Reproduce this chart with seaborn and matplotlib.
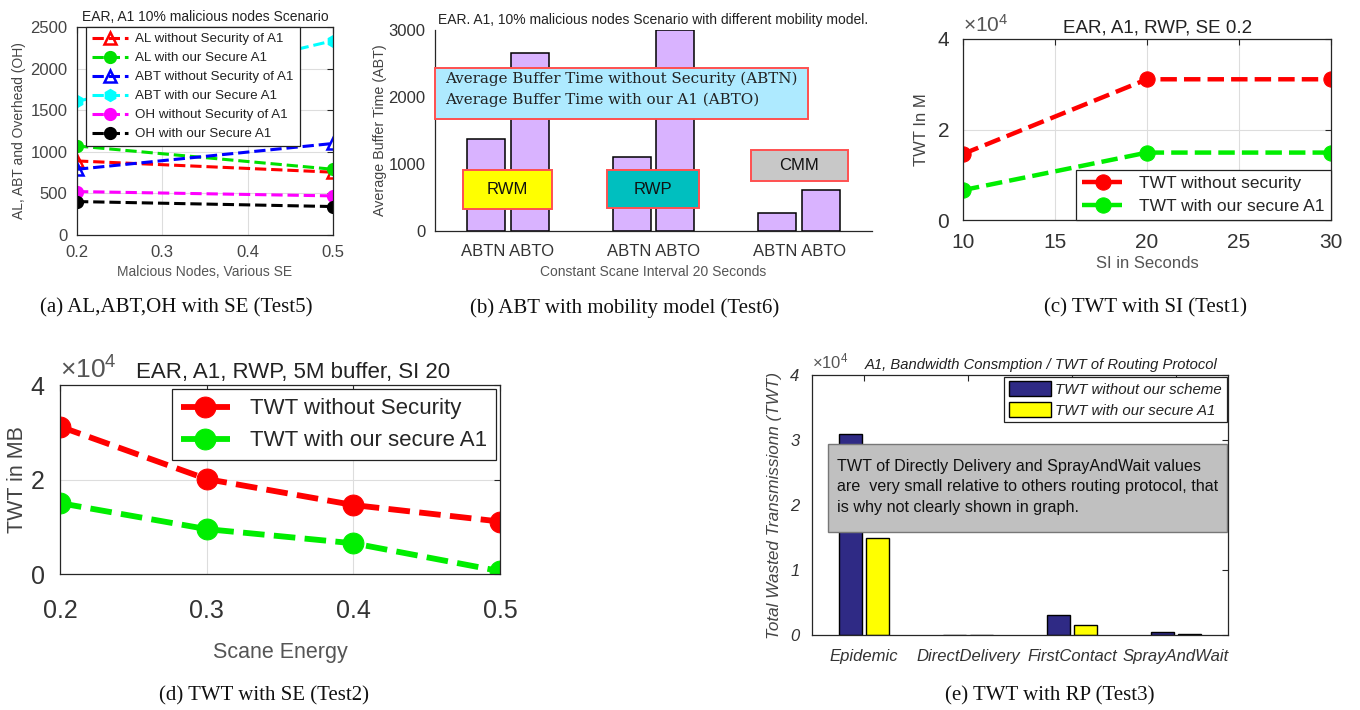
import matplotlib
matplotlib.use("Agg")
import matplotlib.pyplot as plt
import matplotlib.patches as mpatches
from matplotlib.lines import Line2D
import numpy as np
import pandas as pd
import seaborn as sns

# ---------------- data ----------------
# (a)
a_se = [0.2, 0.5]
al_without = [890, 755]
al_with = [1070, 790]
abt_without = [790, 1100]
abt_with = [1605, 2335]
oh_without = [522, 470]
oh_with = [402, 342]
a_labels = ["AL without Security of A1", "AL with our Secure A1",
            "ABT without Security of A1", "ABT with our Secure A1",
            "OH without Security of A1", "OH with our Secure A1"]
# (b)
b_models = ["RWM", "RWP", "CMM"]
b_abtn = [1380, 1100, 265]
b_abto = [2650, 3000, 615]
# (c)
c_si = [10, 20, 30]
c_without = [14600, 31100, 31100]
c_with = [6600, 14900, 14900]
# (d)
d_se = [0.2, 0.3, 0.4, 0.5]
d_without = [31200, 20100, 14600, 11100]
d_with = [15000, 9500, 6500, 600]
# (e)
e_protocols = ["Epidemic", "DirectDelivery", "FirstContact", "SprayAndWait"]
e_without = [30900, 25, 3100, 420]
e_with = [14900, 15, 1550, 220]

captions = ["(a) AL,ABT,OH with SE (Test5)", "(b) ABT with mobility model (Test6)",
            "(c) TWT with SI (Test1)", "(d) TWT with SE (Test2)", "(e) TWT with RP (Test3)"]

# ---------------- style ----------------
sns.set_style("white")
plt.rcParams["font.family"] = ["Liberation Sans", "DejaVu Sans"]
plt.rcParams["mathtext.fontset"] = "custom"
plt.rcParams["mathtext.rm"] = "Liberation Sans"
plt.rcParams["mathtext.it"] = "Liberation Sans:italic"
TXT = "#333333"
GRID = "#dddddd"

fig = plt.figure(figsize=(13.6, 7.1), dpi=100)
W, H = 1360, 710


def box_axes(l, t, r, b):
    return fig.add_axes([l / W, 1 - b / H, (r - l) / W, (b - t) / H])


def matlab_style(ax, box=True, size=11, xpad=6, ypad=6):
    for s in ax.spines.values():
        s.set_color("#262626")
        s.set_linewidth(0.9)
    ax.tick_params(direction="in", length=4, width=0.8, colors="#262626",
                   labelcolor=TXT, labelsize=size, top=box, right=box)
    ax.tick_params(axis="x", pad=xpad)
    ax.tick_params(axis="y", pad=ypad)
    if not box:
        ax.spines["top"].set_visible(False)
        ax.spines["right"].set_visible(False)


# ================= (a) =================
ax = box_axes(77, 27, 333, 235)
a_series = [al_without, al_with, abt_without, abt_with, oh_without, oh_with]
a_colors = ["#ff0000", "#00e000", "#0000ff", "#00ffff", "#ff00ff", "#000000"]
a_markers = ["^", "o", "^", "h", "o", "o"]
handles = []
for vals, col, mk, lab in zip(a_series, a_colors, a_markers, a_labels):
    open_m = mk == "^"
    kw = dict(marker=mk, markersize=9 if open_m else 8,
              markerfacecolor="none" if open_m else col,
              markeredgecolor=col, markeredgewidth=1.8 if open_m else 1.5)
    sns.lineplot(x=a_se, y=vals, ax=ax, color=col, linestyle="--", linewidth=2.2,
                 **kw)
    handles.append(Line2D([], [], color=col, linestyle="--", linewidth=2.2, **kw))
ax.set_xlim(0.2, 0.5)
ax.set_ylim(0, 2500)
ax.set_xticks([0.2, 0.3, 0.4, 0.5])
ax.set_yticks([0, 500, 1000, 1500, 2000, 2500])
ax.grid(True, color=GRID, linewidth=0.8)
matlab_style(ax, size=12, xpad=7, ypad=7)
for lab in ax.get_xticklabels() + ax.get_yticklabels():
    lab.set_color("#444444")
ax.set_title("EAR, A1 10% malicious nodes Scenario", fontsize=10, color="#222222", pad=4)
ax.set_xlabel("Malcious Nodes, Various SE", fontsize=10, color="#555555", labelpad=4)
ax.set_ylabel("AL, ABT and Overhead (OH)", fontsize=10, color="#444444", labelpad=3)
leg = ax.legend(handles, a_labels, loc="upper left", bbox_to_anchor=(0.035, 1.0),
                fontsize=9.6, frameon=True, fancybox=False, framealpha=1,
                edgecolor="#222222", borderpad=0.45, labelspacing=0.5,
                handlelength=2.7, handletextpad=0.55, borderaxespad=0.0)
leg.get_frame().set_linewidth(0.9)
for t in leg.get_texts():
    t.set_color("#222222")

# ================= (b) =================
ax = box_axes(435, 30, 872, 231)
df_b = pd.DataFrame({"model": b_models * 2,
                     "series": ["ABTN"] * 3 + ["ABTO"] * 3,
                     "value": b_abtn + b_abto})
lav = "#d9b3ff"
sns.barplot(data=df_b, x="model", y="value", hue="series", palette=[lav, lav],
            saturation=1, width=0.6, gap=0.13, edgecolor="black", linewidth=1.1,
            legend=False, ax=ax, errorbar=None)
ax.set_xlim(-0.5, 2.5)
ax.set_ylim(0, 3000)
ax.set_yticks([0, 1000, 2000, 3000])
ax.set_xticks([0, 1, 2])
ax.set_xticklabels(["ABTN ABTO"] * 3)
ax.set_xticks([0.5, 1.5], minor=True)
matlab_style(ax, box=False, size=12, xpad=9, ypad=7)
ax.tick_params(axis="x", which="major", length=0)
ax.tick_params(axis="x", which="minor", direction="in", length=4, color="#262626")
ax.set_title("EAR. A1, 10% malicious nodes Scenario with different mobility model.",
             fontsize=10, color="#222222", pad=4, x=0.5)
ax.set_xlabel("Constant Scane Interval 20 Seconds", fontsize=10, color="#555555", labelpad=5)
ax.set_ylabel("Average Buffer Time (ABT)", fontsize=10.3, color="#444444", labelpad=1)
edge = "#ff5050"
boxes_b = [((0.0, 0.557), 0.854, 0.254, "#aeeaff"),
           ((0.064, 0.109), 0.204, 0.194, "#ffff00"),
           ((0.394, 0.114), 0.210, 0.189, "#00bfbf"),
           ((0.723, 0.249), 0.222, 0.154, "#c8c8c8")]
for (x0, y0), w, h, fc in boxes_b:
    ax.add_patch(mpatches.Rectangle((x0, y0), w, h, transform=ax.transAxes,
                                    facecolor=fc, edgecolor=edge, linewidth=1.4,
                                    zorder=5, clip_on=False))
ax.text(0.023, 0.755, "Average Buffer Time without Security (ABTN)", transform=ax.transAxes,
        fontsize=10.9, family="DejaVu Serif", va="center", ha="left", zorder=6, color="#222222")
ax.text(0.023, 0.655, "Average Buffer Time with our A1 (ABTO)", transform=ax.transAxes,
        fontsize=10.9, family="DejaVu Serif", va="center", ha="left", zorder=6, color="#222222")
for lab, (x0, y0), w, h in [("RWM", (0.064, 0.109), 0.204, 0.194),
                            ("RWP", (0.394, 0.114), 0.210, 0.189),
                            ("CMM", (0.723, 0.249), 0.222, 0.154)]:
    ax.text(x0 + w / 2, y0 + h / 2, lab, transform=ax.transAxes, fontsize=12,
            ha="center", va="center", zorder=6, color="#111111")

# ================= (c) =================
ax = box_axes(963, 39, 1331, 220)
sns.lineplot(x=c_si, y=c_without, ax=ax, color="#ff0000", linestyle="--", linewidth=3.2,
             marker="o", markersize=11, markeredgecolor="#ff0000", markerfacecolor="#ff0000",
             label="TWT without security")
sns.lineplot(x=c_si, y=c_with, ax=ax, color="#00ee00", linestyle="--", linewidth=3.2,
             marker="o", markersize=11, markeredgecolor="#00ee00", markerfacecolor="#00ee00",
             label="TWT with our secure A1")
ax.set_xlim(10, 30)
ax.set_ylim(0, 40000)
ax.set_xticks([10, 15, 20, 25, 30])
ax.set_yticks([0, 20000, 40000])
ax.set_yticklabels(["0", "2", "4"])
ax.grid(True, color=GRID, linewidth=0.8)
matlab_style(ax, size=15, xpad=9, ypad=10)
ax.text(0.0, 1.02, r"$\times10^4$", transform=ax.transAxes, fontsize=15, color="#555555",
        ha="left", va="bottom")
ax.set_title("EAR, A1, RWP, SE 0.2", fontsize=13.5, color="#222222", pad=5, x=0.53)
ax.set_xlabel("SI in Seconds", fontsize=12, color="#555555", labelpad=3)
ax.set_ylabel("TWT In M", fontsize=12, color="#444444", labelpad=6)
leg = ax.legend(loc="lower right", fontsize=12.5, frameon=True, fancybox=False, framealpha=1,
                edgecolor="#222222", borderpad=0.35, labelspacing=0.45, handlelength=2.4,
                handletextpad=0.9, borderaxespad=0.0)
leg.get_frame().set_linewidth(0.9)

# ================= (d) =================
ax = box_axes(60, 385, 500, 574)
sns.lineplot(x=d_se, y=d_without, ax=ax, color="#ff0000", linestyle="--", linewidth=4.2,
             marker="o", markersize=15, markeredgecolor="#ff0000", markerfacecolor="#ff0000",
             label="TWT without Security")
sns.lineplot(x=d_se, y=d_with, ax=ax, color="#00ee00", linestyle="--", linewidth=4.2,
             marker="o", markersize=15, markeredgecolor="#00ee00", markerfacecolor="#00ee00",
             label="TWT with our secure A1")
ax.set_xlim(0.2, 0.5)
ax.set_ylim(0, 40000)
ax.set_xticks([0.2, 0.3, 0.4, 0.5])
ax.set_yticks([0, 20000, 40000])
ax.set_yticklabels(["0", "2", "4"])
ax.grid(True, color=GRID, linewidth=0.8)
matlab_style(ax, size=18, xpad=18, ypad=11)
ax.text(0.0, 1.01, r"$\times10^4$", transform=ax.transAxes, fontsize=19, color="#555555",
        ha="left", va="bottom")
ax.set_title("EAR, A1, RWP, 5M buffer, SI 20", fontsize=16, color="#222222", pad=5, x=0.53)
ax.set_xlabel("Scane Energy", fontsize=15.5, color="#555555", labelpad=14)
ax.set_ylabel("TWT in MB", fontsize=15.5, color="#444444", labelpad=2)
leg = ax.legend(loc="upper right", fontsize=16, frameon=True, fancybox=False, framealpha=1,
                edgecolor="#222222", borderpad=0.4, labelspacing=0.5, handlelength=2.2,
                handletextpad=0.9, borderaxespad=0.2)
leg.get_frame().set_linewidth(0.9)

# ================= (e) =================
ax = box_axes(812, 375, 1228, 635)
df_e = pd.DataFrame({"protocol": e_protocols * 2,
                     "series": ["TWT without our scheme"] * 4 + ["TWT with our secure A1"] * 4,
                     "value": e_without + e_with})
sns.barplot(data=df_e, x="protocol", y="value", hue="series",
            palette=["#2f2a85", "#ffff00"], saturation=1, width=0.52, gap=0.12,
            edgecolor="black", linewidth=1.0, ax=ax, errorbar=None)
ax.set_xlim(-0.5, 3.5)
ax.set_ylim(0, 40000)
ax.set_yticks([0, 10000, 20000, 30000, 40000])
ax.set_yticklabels(["0", "1", "2", "3", "4"])
matlab_style(ax, size=12, xpad=10, ypad=9)
for lab in ax.get_xticklabels() + ax.get_yticklabels():
    lab.set_fontstyle("italic")
ax.text(0.0, 1.015, r"$\times10^{4}$", transform=ax.transAxes, fontsize=12, color="#555555",
        ha="left", va="bottom")
ax.set_title("A1, Bandwidth Consmption / TWT of Routing Protocol", fontsize=10.6,
             color="#222222", style="italic", pad=4, x=0.55)
ax.set_xlabel("")
ax.set_ylabel("Total Wasted Transmissionn (TWT)", fontsize=12.3, color="#444444",
              style="italic", labelpad=6)
leg = ax.legend(loc="upper right", fontsize=10.8, frameon=True, fancybox=False, framealpha=1,
                edgecolor="#222222", borderpad=0.3, labelspacing=0.35, handlelength=2.8,
                handleheight=1.2, handletextpad=0.3, borderaxespad=0.1)
leg.get_frame().set_linewidth(0.9)
for t in leg.get_texts():
    t.set_fontstyle("italic")
    t.set_color("#222222")
ax.add_patch(mpatches.Rectangle((0.038, 0.396), 0.96, 0.339, transform=ax.transAxes,
                                facecolor="#c0c0c0", edgecolor="#777777", linewidth=1.0,
                                zorder=5))
ax.text(0.06, 0.57, "TWT of Directly Delivery and SprayAndWait values\n"
        "are  very small relative to others routing protocol, that\n"
        "is why not clearly shown in graph.", transform=ax.transAxes, fontsize=11.6,
        ha="left", va="center", zorder=6, color="#111111", linespacing=1.45)

# ================= captions =================
cap_pos = [(176, 308), (625, 308), (1145, 308), (264, 696), (1050, 696)]
for txt, (x, y) in zip(captions, cap_pos):
    fig.text(x / W, 1 - y / H, txt, ha="center", va="center", fontsize=15,
             family="Liberation Serif", color="#111111")

fig.savefig("out.png", dpi=100)
